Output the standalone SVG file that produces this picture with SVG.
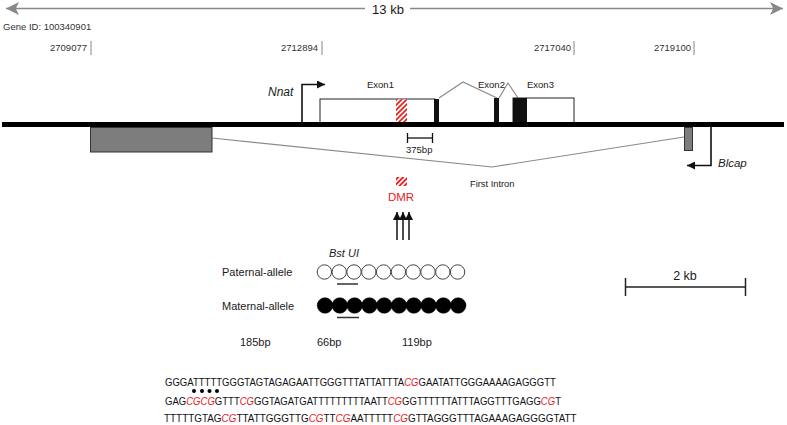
<svg xmlns="http://www.w3.org/2000/svg" width="787" height="425" viewBox="0 0 787 425">
<style>
text{font-family:"Liberation Sans",Arial,sans-serif;fill:#1a1a1a}
.s9{font-size:9.5px}
.s11{font-size:11px}
.it{font-style:italic}
.red{fill:#e8201e}
.gray{stroke:#8a8a8a;fill:none;stroke-width:1.2}
.tick{stroke:#999;stroke-width:1.2}
.blk{stroke:#111;fill:none}
.seq{font-size:10.6px;fill:#111}
.cg{fill:#e8201e;font-style:italic}
</style>
<defs>
<pattern id="hatch" width="3.5" height="3.5" patternUnits="userSpaceOnUse" patternTransform="rotate(45)">
<rect width="3.5" height="3.5" fill="#fff"/>
<rect width="1.8" height="3.5" fill="#e8201e"/>
</pattern>
<marker id="ah" viewBox="0 0 10 10" refX="10" refY="5" markerWidth="9" markerHeight="8" markerUnits="userSpaceOnUse" orient="auto">
<path d="M0,0 L10,5 L0,10 Z" fill="#111"/>
</marker>
<marker id="ahg" viewBox="0 0 10 10" refX="10" refY="5" markerWidth="17" markerHeight="13" markerUnits="userSpaceOnUse" orient="auto">
<path d="M0,0 L10,5 L0,10 L2.5,5 Z" fill="#888"/>
</marker>
</defs>

<g id="scale-top">
<line x1="365" y1="8.5" x2="6" y2="8.5" stroke="#888" stroke-width="1.6" marker-end="url(#ahg)"/>
<line x1="410" y1="8.5" x2="783" y2="8.5" stroke="#888" stroke-width="1.6" marker-end="url(#ahg)"/>
<text x="388" y="13.5" style="font-size:13px" text-anchor="middle" fill="#444">13 kb</text>
</g>

<g id="gene-id"><text x="3" y="30" class="s9" style="fill:#333">Gene ID: 100340901</text></g>

<g id="coords">
<text x="87" y="51" class="s9" text-anchor="end" style="fill:#333">2709077</text>
<line class="tick" x1="91" y1="41" x2="91" y2="55"/>
<text x="318" y="51" class="s9" text-anchor="end" style="fill:#333">2712894</text>
<line class="tick" x1="322" y1="41" x2="322" y2="55"/>
<text x="571" y="51" class="s9" text-anchor="end" style="fill:#333">2717040</text>
<line class="tick" x1="574" y1="41" x2="574" y2="55"/>
<text x="691" y="51" class="s9" text-anchor="end" style="fill:#333">2719100</text>
<line class="tick" x1="694" y1="41" x2="694" y2="55"/>
</g>

<g id="connectors">
<polyline class="gray" points="439,98 463,82 497,98"/>
<polyline class="gray" points="499,98 508,83 518,98"/>
<polyline class="gray" points="212,138 492,167 684,137"/>
<polyline class="blk" stroke-width="1.6" points="302,122 302,84.5 325,84.5" marker-end="url(#ah)"/>
<polyline class="blk" stroke-width="1.6" points="711,127 711,165.5 687,165.5" marker-end="url(#ah)"/>
<line class="blk" stroke-width="1.5" x1="397" y1="240" x2="397" y2="212" marker-end="url(#ah)"/>
<line class="blk" stroke-width="1.5" x1="403" y1="240" x2="403" y2="212" marker-end="url(#ah)"/>
<line class="blk" stroke-width="1.5" x1="409" y1="240" x2="409" y2="212" marker-end="url(#ah)"/>
</g>

<g id="nnat-exon1">
<rect x="320" y="99" width="115" height="24" fill="#fff" stroke="#222" stroke-width="1"/>
<rect x="396" y="99.5" width="11" height="23" fill="url(#hatch)"/>
<rect x="434" y="99" width="5" height="24" fill="#111"/>
<text x="367" y="88" class="s9">Exon1</text>
</g>
<g id="nnat-exon2">
<rect x="494" y="98" width="5" height="25" fill="#111"/>
<text x="478" y="88" class="s9">Exon2</text>
</g>
<g id="nnat-exon3">
<rect x="513" y="98" width="61" height="25" fill="#fff" stroke="#222" stroke-width="1"/>
<rect x="513" y="98" width="14" height="25" fill="#111"/>
<text x="527" y="88" class="s9">Exon3</text>
</g>
<g id="nnat-label"><text x="268" y="96" class="it" style="font-size:12px">Nnat</text></g>

<g id="chromosome">
<line x1="2" y1="124.5" x2="784" y2="124.5" stroke="#000" stroke-width="5"/>
</g>

<g id="blcap-exon-left">
<rect x="90.5" y="127.5" width="121.5" height="24.5" fill="#7d7d7d" stroke="#333" stroke-width="1"/>
</g>
<g id="blcap-exon-right">
<rect x="684.5" y="127.5" width="8" height="23" fill="#7d7d7d" stroke="#333" stroke-width="1"/>
</g>
<g id="blcap-label"><text x="718" y="167" class="it" style="font-size:11.5px">Blcap</text></g>

<g id="bp375">
<line x1="407" y1="138" x2="433" y2="138" stroke="#111" stroke-width="1.3"/>
<line x1="407.5" y1="133" x2="407.5" y2="143" stroke="#111" stroke-width="1.3"/>
<line x1="432.5" y1="133" x2="432.5" y2="143" stroke="#111" stroke-width="1.3"/>
<text x="406" y="153" class="s9">375bp</text>
</g>

<g id="first-intron"><text x="470" y="187" class="s9" style="font-size:9.3px">First Intron</text></g>

<g id="dmr">
<rect x="396" y="177" width="11" height="9" fill="url(#hatch)"/>
<text x="401" y="201" text-anchor="middle" class="red" style="font-size:11.5px">DMR</text>
</g>

<g id="bstui"><text x="329" y="257" class="s11 it">Bst UI</text></g>

<g id="paternal">
<text x="222" y="276" class="s11">Paternal-allele</text>
<g fill="#fff" stroke="#444" stroke-width="1">
<circle cx="324.4" cy="272" r="7.2"/><circle cx="339.2" cy="272" r="7.2"/><circle cx="354" cy="272" r="7.2"/><circle cx="368.8" cy="272" r="7.2"/><circle cx="383.6" cy="272" r="7.2"/><circle cx="398.4" cy="272" r="7.2"/><circle cx="413.2" cy="272" r="7.2"/><circle cx="428" cy="272" r="7.2"/><circle cx="442.8" cy="272" r="7.2"/><circle cx="457.6" cy="272" r="7.2"/>
</g>
<line x1="337" y1="284" x2="358" y2="284" stroke="#333" stroke-width="1.5"/>
</g>

<g id="maternal">
<text x="222" y="310" class="s11">Maternal-allele</text>
<g fill="#000" stroke="#000" stroke-width="0.5">
<circle cx="325" cy="305.5" r="7.8"/><circle cx="339.8" cy="305.5" r="7.8"/><circle cx="354.6" cy="305.5" r="7.8"/><circle cx="369.4" cy="305.5" r="7.8"/><circle cx="384.2" cy="305.5" r="7.8"/><circle cx="399" cy="305.5" r="7.8"/><circle cx="413.8" cy="305.5" r="7.8"/><circle cx="428.6" cy="305.5" r="7.8"/><circle cx="443.4" cy="305.5" r="7.8"/><circle cx="458.2" cy="305.5" r="7.8"/>
</g>
<line x1="337" y1="317.5" x2="359" y2="317.5" stroke="#333" stroke-width="1.5"/>
</g>

<g id="fragments">
<text x="240" y="346" class="s11">185bp</text>
<text x="317" y="346" class="s11">66bp</text>
<text x="402" y="346" class="s11">119bp</text>
</g>

<g id="scale-2kb">
<line x1="625" y1="287" x2="746" y2="287" stroke="#222" stroke-width="1.5"/>
<line x1="625.5" y1="278" x2="625.5" y2="296" stroke="#222" stroke-width="1.5"/>
<line x1="745.5" y1="278" x2="745.5" y2="296" stroke="#222" stroke-width="1.5"/>
<text x="685" y="280" text-anchor="middle" style="font-size:12.5px">2 kb</text>
</g>

<g id="sequence">
<g fill="#000"><circle cx="194" cy="391" r="2"/><circle cx="202" cy="391" r="2"/><circle cx="209.5" cy="391" r="2"/><circle cx="217" cy="391" r="2"/></g>
<text transform="translate(165,386) scale(0.902,1)" class="seq">GGGATTTTTGGGTAGTAGAGAATTGGGTTTATTATTTA<tspan class="cg">CG</tspan>GAATATTGGGAAAAGAGGGTT</text>
<text transform="translate(165,405) scale(0.9005,1)" class="seq">GAG<tspan class="cg">CGCG</tspan>GTTT<tspan class="cg">CG</tspan>GGTAGATGATTTTTTTTTAATT<tspan class="cg">CG</tspan>GGTTTTTTATTTAGGTTTGAGG<tspan class="cg">CG</tspan>T</text>
<text transform="translate(164,422) scale(0.935,1)" class="seq">TTTTTGTAG<tspan class="cg">CG</tspan>TTATTGGGTTG<tspan class="cg">CG</tspan>TT<tspan class="cg">CG</tspan>AATTTTT<tspan class="cg">CG</tspan>GTTAGGGTTTAGAAAGAGGGGTATT</text>
</g>
</svg>
